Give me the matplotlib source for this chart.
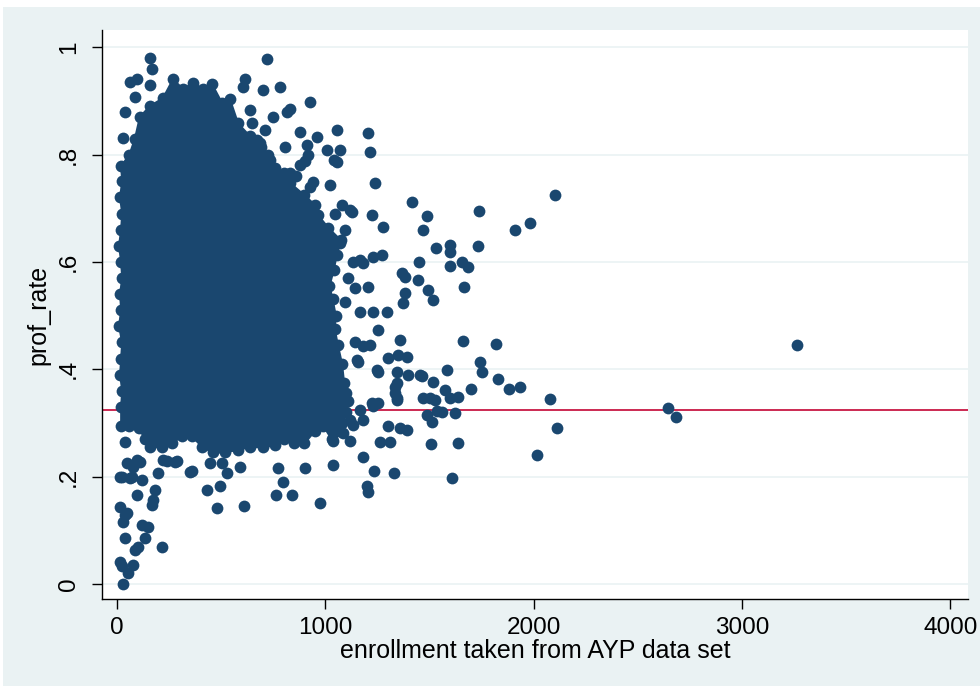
import numpy as np
import matplotlib.pyplot as plt
from matplotlib.patches import Rectangle

# outline of the dense cloud of schools (enrollment, prof_rate)
core_x = [20, 60, 105, 135, 160, 215, 265, 310, 360, 410, 460, 520, 580, 640, 700, 760, 800, 850, 900, 950,
          990, 1030, 1060, 1080,
          1100, 1110, 1100, 1090, 1080, 1060, 1045, 1050, 1035, 1020, 1040, 1055, 1075, 1015, 965, 950, 900, 830, 800,
          760, 725, 686, 638, 581, 542, 504, 456, 413, 365, 317, 269, 221, 158, 110, 86, 60, 20,
          25, 15, 25, 20, 10, 20, 25, 15, 20, 10, 25, 20, 15, 25, 20]
core_y = [0.294, 0.294, 0.29, 0.27, 0.255, 0.255, 0.262, 0.275, 0.275, 0.255, 0.245, 0.245, 0.25, 0.255, 0.255,
          0.258, 0.27, 0.262, 0.262, 0.285, 0.295, 0.27, 0.285, 0.30,
          0.32, 0.34, 0.355, 0.375, 0.41, 0.445, 0.475, 0.5, 0.53, 0.555, 0.585, 0.613, 0.64, 0.663, 0.687, 0.706,
          0.724, 0.747, 0.765,
          0.775, 0.80, 0.821, 0.834, 0.858, 0.903, 0.896, 0.931, 0.922, 0.933, 0.922, 0.94, 0.905, 0.89, 0.87, 0.829,
          0.80, 0.778,
          0.75, 0.72, 0.69, 0.66, 0.63, 0.60, 0.57, 0.54, 0.51, 0.48, 0.45, 0.42, 0.39, 0.36, 0.33]

# schools outside the dense cloud
enroll = [158, 168, 62, 96, 158, 86, 38, 29,
          614, 605, 701, 718, 638, 648, 710, 672, 782, 926, 749, 816, 830, 878, 960, 1056, 1205, 1214, 693, 806,
          912, 917, 902, 878, 1008, 1070, 1056, 1040, 734, 830, 858, 941, 925, 1022, 1238, 782, 830, 893, 936,
          1046, 1080, 1118, 1128, 1224, 720, 749, 686, 1416, 1488,
          1094, 1277, 1469, 1070, 1166, 1133, 1181, 1272, 1229, 1450, 1368, 1382, 1447, 1109, 1142, 1205, 1382,
          1373, 1094, 1166, 1229, 1296, 1253, 1142, 1214, 1181, 1358, 1157, 1152, 1301, 1349, 1392, 1253, 1248,
          1344, 1397, 1454, 1334, 1344, 1334, 1344, 1229, 1253, 1224, 1166, 1181, 1118, 1085, 1133, 1301, 1358,
          1392, 1262, 1310, 1037, 1118, 1344,
          2102, 1982, 1910, 1738, 1531, 1598, 1598, 1733, 1598, 1656, 1685, 1493, 1517, 1666, 1661, 1819, 1742,
          1752, 1584, 1464, 1517, 1829, 1882, 1934, 1699, 1574, 1598, 1637, 1502, 1526, 1469, 2078, 1488, 1512,
          1560, 1622, 1536, 2112, 1507, 1637, 2016, 1608, 2645, 2683, 3264,
          221, 278, 240, 288, 350, 360, 446, 504, 528, 590, 38, 48, 77, 96, 110, 14, 24, 62, 72, 120, 197, 182,
          96, 173, 168, 14, 38, 48, 29, 120, 149, 38, 134, 216, 86, 101, 14, 24, 77, 53, 29, 432, 494, 480, 612,
          775, 902, 1037, 797, 763, 842, 976, 1181, 1233, 1200, 1205, 1328]
prof_rate = [0.98, 0.96, 0.935, 0.94, 0.93, 0.907, 0.88, 0.83,
             0.94, 0.925, 0.92, 0.978, 0.883, 0.858, 0.845, 0.827, 0.926, 0.898, 0.87, 0.88, 0.885, 0.842, 0.833,
             0.845, 0.84, 0.805, 0.814, 0.814, 0.818, 0.80, 0.788, 0.78, 0.808, 0.808, 0.786, 0.79, 0.79, 0.765,
             0.76, 0.749, 0.74, 0.743, 0.747, 0.711, 0.706, 0.715, 0.693, 0.69, 0.706, 0.696, 0.693, 0.688, 0.747,
             0.728, 0.77, 0.711, 0.686,
             0.66, 0.665, 0.66, 0.635, 0.603, 0.6, 0.598, 0.613, 0.609, 0.6, 0.579, 0.572, 0.566, 0.57, 0.551,
             0.553, 0.542, 0.523, 0.525, 0.506, 0.506, 0.506, 0.473, 0.45, 0.445, 0.443, 0.454, 0.413, 0.417,
             0.421, 0.426, 0.423, 0.395, 0.398, 0.395, 0.39, 0.39, 0.367, 0.346, 0.356, 0.374, 0.331, 0.337, 0.337,
             0.324, 0.305, 0.305, 0.281, 0.296, 0.294, 0.29, 0.287, 0.264, 0.264, 0.266, 0.266, 0.343,
             0.724, 0.672, 0.659, 0.695, 0.626, 0.631, 0.618, 0.629, 0.592, 0.6, 0.59, 0.547, 0.529, 0.553, 0.453,
             0.447, 0.413, 0.395, 0.398, 0.387, 0.376, 0.382, 0.363, 0.367, 0.363, 0.361, 0.346, 0.348, 0.346,
             0.343, 0.346, 0.344, 0.315, 0.302, 0.32, 0.318, 0.322, 0.291, 0.261, 0.263, 0.24, 0.197, 0.328, 0.311,
             0.445,
             0.231, 0.227, 0.229, 0.229, 0.209, 0.21, 0.225, 0.225, 0.207, 0.218, 0.265, 0.225, 0.218, 0.231, 0.227,
             0.2, 0.2, 0.197, 0.2, 0.194, 0.207, 0.175, 0.166, 0.156, 0.147, 0.143, 0.128, 0.132, 0.115, 0.11,
             0.106, 0.086, 0.086, 0.069, 0.063, 0.069, 0.041, 0.034, 0.035, 0.02, 0.0, 0.175, 0.183, 0.141, 0.145,
             0.216, 0.216, 0.222, 0.19, 0.166, 0.166, 0.15, 0.236, 0.21, 0.182, 0.171, 0.207]

cutoff = 0.324

yticks = [0, 0.2, 0.4, 0.6, 0.8, 1]
ytick_labels = ['0', '.2', '.4', '.6', '.8', '1']
xticks = [0, 1000, 2000, 3000, 4000]

navy = '#1a476f'
frame = '#eaf2f3'

plt.rcParams['font.family'] = ['Liberation Sans', 'DejaVu Sans']

fig = plt.figure(figsize=(9.8, 6.86), dpi=100)
fig.patch.set_facecolor('white')
fig.add_artist(Rectangle((3 / 980, 0), 1 - 3 / 980, 1 - 7 / 686, transform=fig.transFigure,
                         facecolor=frame, edgecolor='none', zorder=-1))

ax = fig.add_axes([102 / 980, 1 - 599 / 686, 866 / 980, 569 / 686])
ax.set_facecolor('white')

for t in yticks:
    ax.axhline(t, color=frame, lw=1.2, zorder=1)
ax.axhline(cutoff, color='#cc2952', lw=1.4, zorder=2)

ax.fill(core_x, core_y, color=navy, lw=1.5, zorder=3)
ax.scatter(core_x, core_y, s=72, color=navy, linewidths=0, zorder=3)
ax.scatter(enroll, prof_rate, s=72, color=navy, linewidths=0, zorder=3)

ax.set_xlim(-72, 4085)
ax.set_ylim(-0.028, 1.032)

ax.set_xticks(xticks)
ax.set_yticks(yticks)
ax.set_yticklabels(ytick_labels, rotation=90, va='center')
ax.tick_params(axis='both', length=7, width=1, labelsize=17.5, color='black')
ax.tick_params(axis='y', pad=9)
ax.tick_params(axis='x', pad=6)

for side in ['top', 'right']:
    ax.spines[side].set_visible(False)
for side in ['left', 'bottom']:
    ax.spines[side].set_linewidth(1)

ax.set_xlabel('enrollment taken from AYP data set', fontsize=18, labelpad=0)
ax.set_ylabel('prof_rate', fontsize=18, labelpad=5)

fig.savefig('out.png', dpi=100)
